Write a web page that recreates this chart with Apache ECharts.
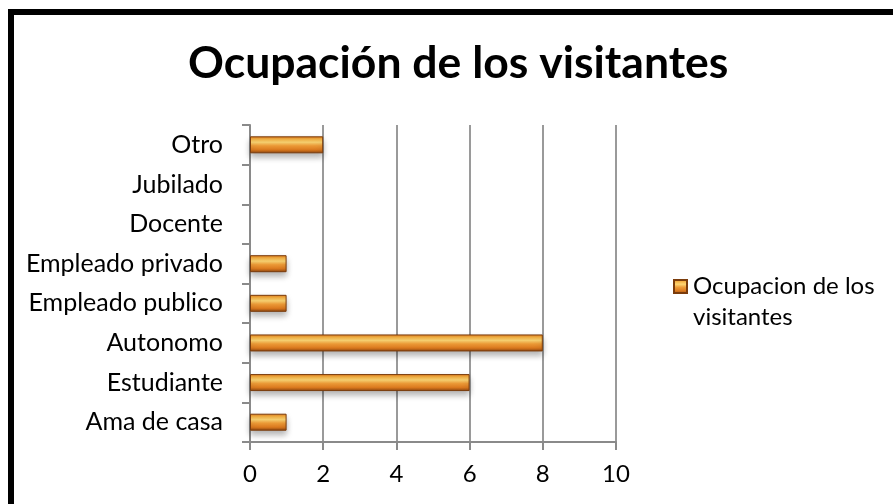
<!DOCTYPE html>
<html>
<head>
<meta charset="utf-8">
<script src="https://cdn.jsdelivr.net/npm/echarts@6/dist/echarts.min.js"></script>
<style>
  html, body { margin: 0; padding: 0; background: #fff; overflow: hidden; }
  #frame {
    position: absolute; left: 8px; top: 9px; width: 900px; height: 510px;
    border: 6px solid #000; box-sizing: border-box;
  }
  #chart { position: absolute; left: 0; top: 0; width: 893px; height: 504px; }
</style>
</head>
<body>
<div id="frame"></div>
<div id="chart"></div>
<script>
const categories = ['Ama de casa', 'Estudiante', 'Autonomo', 'Empleado publico', 'Empleado privado', 'Docente', 'Jubilado', 'Otro']
const values = [1, 6, 8, 1, 1, 0, 0, 2]
const seriesName = 'Ocupacion de los visitantes'
const xTicks = [0, 2, 4, 6, 8, 10]

const chart = echarts.init(document.getElementById('chart'))
const font = 'Lato'

// naranja con relieve
const barColor = new echarts.graphic.LinearGradient(0, 0, 0, 1, [
  { offset: 0, color: '#E07A1A' },
  { offset: 0.18, color: '#F6B548' },
  { offset: 0.35, color: '#FDD674' },
  { offset: 0.55, color: '#EE9C38' },
  { offset: 0.8, color: '#D9781E' },
  { offset: 1, color: '#8A4510' }
])

const barData = values.map(v => {
  // las barras en cero no se dibujan
  if (v === 0) return { value: v, itemStyle: { borderWidth: 0, shadowBlur: 0, opacity: 0 } }
  return v
})

chart.setOption({
  backgroundColor: 'transparent',
  animation: false,
  title: {
    text: 'Ocupación de los visitantes',
    left: 183,
    top: 36,
    textStyle: { fontFamily: font, fontWeight: 'bold', fontSize: 44.5, color: '#000' }
  },
  legend: {
    left: 668,
    top: 235,
    orient: 'vertical',
    icon: 'rect',
    itemWidth: 13,
    itemHeight: 13,
    itemGap: 4,
    formatter: function(name) {
      // linea vacia arriba para que el icono quede con la primera linea
      return '\nOcupacion de los\nvisitantes'
    },
    textStyle: { fontFamily: font, fontSize: 24, color: '#000', lineHeight: 31, padding: [0, 0, 0, 1] },
    data: [seriesName]
  },
  grid: { left: 250, right: 277, top: 125, bottom: 62, containLabel: false },
  xAxis: {
    type: 'value',
    min: 0,
    max: 10,
    interval: 2,
    axisLine: { show: true, lineStyle: { color: '#8a8a8a', width: 2 } },
    axisTick: { show: true, length: 8, lineStyle: { color: '#8a8a8a', width: 2 } },
    splitLine: { show: true, lineStyle: { color: '#9a9a9a', width: 2 } },
    axisLabel: {
      margin: 20,
      fontFamily: font,
      fontSize: 24,
      color: '#000',
      formatter: function(v) { return xTicks.indexOf(v) >= 0 ? String(v) : '' }
    }
  },
  yAxis: {
    type: 'category',
    data: categories,
    axisLine: { show: true, lineStyle: { color: '#8a8a8a', width: 2 } },
    axisTick: { show: true, length: 8, lineStyle: { color: '#8a8a8a', width: 2 } },
    axisLabel: { margin: 27, fontFamily: font, fontSize: 25, color: '#000' }
  },
  series: [
    {
      name: seriesName,
      type: 'bar',
      barWidth: 17,
      data: barData,
      itemStyle: {
        color: barColor,
        borderColor: '#7A3C0C',
        borderWidth: 1,
        shadowColor: 'rgba(0, 0, 0, 0.3)',
        shadowBlur: 6,
        shadowOffsetY: 4
      }
    }
  ]
})
</script>
</body>
</html>
